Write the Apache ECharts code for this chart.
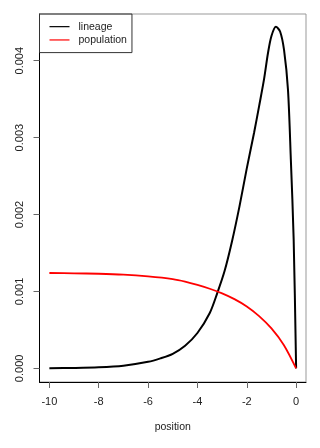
<!DOCTYPE html>
<html>
<head>
<meta charset="utf-8">
<script src="https://cdn.jsdelivr.net/npm/echarts@6/dist/echarts.min.js"></script>
<style>
html,body{margin:0;padding:0;background:#fff;}
#chart{width:320px;height:448px;}
</style>
</head>
<body>
<div id="chart"></div>
<script>
// Data
var seriesNames = ['lineage', 'population'];
var lineageX = [-10, -9, -8, -7, -6, -5.5, -5, -4.5, -4, -3.5, -3.2, -2.9, -2.6, -2.3, -2.0, -1.7, -1.5, -1.3, -1.14, -1.0, -0.82, -0.65, -0.49, -0.33, -0.215, -0.1, 0];
var lineageY = [0.000003, 0.000006, 0.000014, 0.000035, 0.000085, 0.000130, 0.000190, 0.000295, 0.000460, 0.000720, 0.000975, 0.001265, 0.001650, 0.002100, 0.002600, 0.003070, 0.003410, 0.003760, 0.004100, 0.004320, 0.004440, 0.004380, 0.004140, 0.003620, 0.002720, 0.001680, 0];
var populationX = [-10, -9, -8, -7, -6, -5, -4.5, -4, -3.5, -3, -2.5, -2, -1.5, -1, -0.5, 0];
var populationY = [0.001240, 0.001236, 0.001230, 0.001218, 0.001195, 0.001160, 0.001128, 0.001085, 0.001035, 0.000975, 0.000900, 0.000805, 0.000680, 0.000520, 0.000305, 0];
var xTicks = [-10, -8, -6, -4, -2, 0];
var yTicks = [0, 0.001, 0.002, 0.003, 0.004];
var xTitle = 'position';

function zip(xs, ys) { return xs.map(function (x, i) { return [x, ys[i]]; }); }

var font = 'Liberation Sans, Arial, Helvetica, sans-serif';
var chart = echarts.init(document.getElementById('chart'), null, {renderer: 'canvas'});
chart.setOption({
  animation: false,
  backgroundColor: '#fff',
  grid: {left: 39.5, right: 14, top: 14, bottom: 66, show: true, borderColor: '#999', borderWidth: 1, backgroundColor: 'transparent'},
  legend: {
    orient: 'vertical', left: 39.5, top: 14,
    padding: [6, 5, 6, 10], itemGap: 0,
    borderColor: '#333', borderWidth: 1, borderRadius: 0,
    icon: 'rect', itemWidth: 20, itemHeight: 1.2,
    textStyle: {fontFamily: font, fontSize: 10.5, color: '#222', lineHeight: 13.3, padding: [0, 0, 0, 4]},
    data: seriesNames
  },
  xAxis: {
    type: 'value', min: -10.4, max: 0.4,
    name: xTitle, nameLocation: 'middle', nameGap: 40,
    nameTextStyle: {fontFamily: font, fontSize: 10.5, color: '#222'},
    axisLine: {show: true, onZero: false, lineStyle: {color: '#000', width: 1}},
    axisTick: {show: true, length: 6, lineStyle: {color: '#666'}, customValues: xTicks},
    axisLabel: {fontFamily: font, fontSize: 11, color: '#222', margin: 14, customValues: xTicks,
      formatter: function (v) { return String(v); }},
    splitLine: {show: false}
  },
  yAxis: {
    type: 'value', min: -0.000177, max: 0.004607,
    axisLine: {show: true, onZero: false, lineStyle: {color: '#000', width: 1}},
    axisTick: {show: true, length: 6, lineStyle: {color: '#666'}, customValues: yTicks},
    axisLabel: {fontFamily: font, fontSize: 11, color: '#222', margin: 14, rotate: 90, customValues: yTicks,
      formatter: function (v) { return v.toFixed(3); }},
    splitLine: {show: false}
  },
  series: [
    {name: seriesNames[0], type: 'line', data: zip(lineageX, lineageY), showSymbol: false, smooth: 0.3,
      lineStyle: {color: '#000', width: 2}, itemStyle: {color: '#000'}, clip: true},
    {name: seriesNames[1], type: 'line', data: zip(populationX, populationY), showSymbol: false, smooth: 0.3,
      lineStyle: {color: '#ff0000', width: 1.8}, itemStyle: {color: '#ff0000'}, clip: true}
  ]
});
</script>
</body>
</html>
